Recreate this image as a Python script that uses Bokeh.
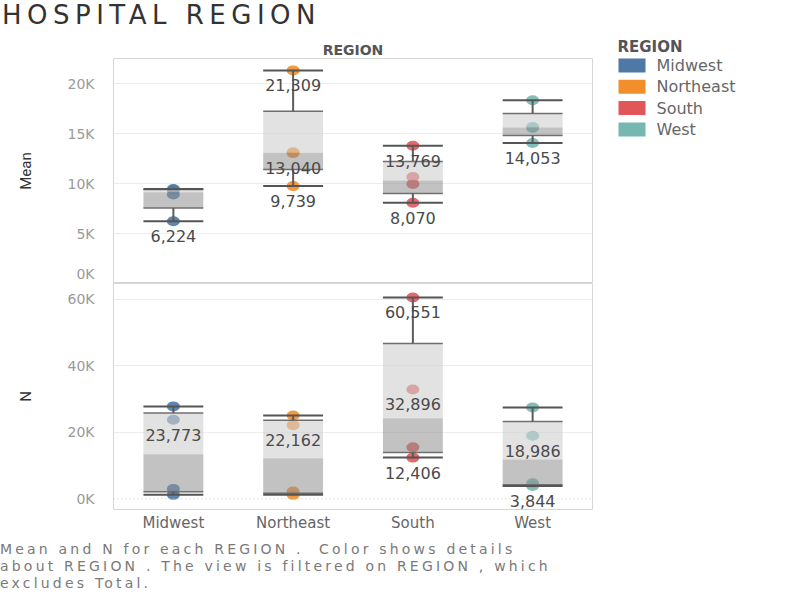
import numpy as np
from bokeh.plotting import figure
from bokeh.models import FactorRange, Range1d, FixedTicker, Span, Div, ColumnDataSource
from bokeh.layouts import column, row
from bokeh.embed import file_html
from bokeh.resources import INLINE
from bokeh.core.properties import value

# ---------------- data ----------------
regions = ["Midwest", "Northeast", "South", "West"]
region_colors = ["#4e79a7", "#f28e2b", "#e15759", "#76b7b2"]

mean_midwest = [6224, 8900, 9350, 9450]
mean_northeast = [9739, 13040, 13120, 21309]
mean_south = [8070, 9950, 10650, 13769]
mean_west = [14053, 15550, 15650, 18330]

n_midwest = [1200, 3000, 23773, 27800]
n_northeast = [1200, 2200, 22162, 25050]
n_south = [12406, 15500, 32896, 60551]
n_west = [3844, 4700, 18986, 27500]

mean_labeled = [6224, 9739, 13040, 21309, 8070, 13769, 14053]
n_labeled = [23773, 22162, 60551, 32896, 12406, 18986, 3844]

mean_ticks = [0, 5000, 10000, 15000, 20000]
n_ticks = [0, 20000, 40000, 60000]

FONT = "DejaVu Sans"


def hinges(vals):
    s = np.sort(np.asarray(vals, dtype=float))
    n = len(s)
    q1 = np.median(s[:(n + 1) // 2])
    q3 = np.median(s[n // 2:])
    return s.min(), q1, np.median(s), q3, s.max()


def build_panel(p, series, labeled):
    px, py, pc, pl = [], [], [], []
    bx, lo, q1s, meds, q3s, hi = [], [], [], [], [], []
    for reg, col, vals in zip(regions, region_colors, series):
        for v in vals:
            px.append(reg); py.append(v); pc.append(col)
            pl.append(f"{v:,}" if v in labeled else "")
        a, b, c, d, e = hinges(vals)
        bx.append(reg); lo.append(a); q1s.append(b); meds.append(c); q3s.append(d); hi.append(e)
    pts = ColumnDataSource(dict(x=px, y=py, color=pc, label=pl))
    box = ColumnDataSource(dict(x=bx, lo=lo, q1=q1s, med=meds, q3=q3s, hi=hi))

    p.ellipse(x="x", y="y", width=13, height=10, width_units="screen", height_units="screen",
              fill_color="color", fill_alpha=0.9, line_color=None, source=pts)
    p.vbar(x="x", bottom="med", top="q3", width=0.5, fill_color="#cfcfcf", fill_alpha=0.6,
           line_color=None, source=box)
    p.vbar(x="x", bottom="q1", top="med", width=0.5, fill_color="#8f8f8f", fill_alpha=0.55,
           line_color=None, source=box)
    for key in ("q1", "q3"):
        p.rect(x="x", y=key, width=0.5, height=1.5, height_units="screen",
               fill_color="#6f6f6f", line_color=None, source=box)
    p.segment(x0="x", y0="q3", x1="x", y1="hi", line_color="#5c5c5c", line_width=2, source=box)
    p.segment(x0="x", y0="q1", x1="x", y1="lo", line_color="#5c5c5c", line_width=2, source=box)
    for key in ("lo", "hi"):
        p.rect(x="x", y=key, width=0.5, height=2, height_units="screen",
               fill_color="#555555", line_color=None, source=box)
    p.text(x="x", y="y", text="label", y_offset=15, text_align="center", text_baseline="middle",
           text_font=value(FONT), text_font_size="16px", text_color="#4a4a4a", source=pts)


def style_axes(p, ticks, label, label_ticks=None):
    shown = label_ticks if label_ticks is not None else ticks
    p.yaxis.ticker = FixedTicker(ticks=shown)
    p.yaxis.major_label_overrides = {s: f"{t // 1000}K" for s, t in zip(shown, ticks)}
    p.yaxis.axis_line_color = None
    p.yaxis.major_tick_line_color = None
    p.yaxis.minor_tick_line_color = None
    p.yaxis.major_label_standoff = 13
    p.yaxis.major_label_text_font = FONT
    p.yaxis.major_label_text_font_size = "14px"
    p.yaxis.major_label_text_color = "#9a9a9a"
    p.yaxis.axis_label = label
    p.yaxis.axis_label_text_font = "Roboto"
    p.yaxis.axis_label_text_font_size = "15px"
    p.yaxis.axis_label_text_font_style = "normal"
    p.yaxis.axis_label_text_color = "#333333"
    p.yaxis.axis_label_standoff = 30
    p.xgrid.visible = False
    p.ygrid.ticker = FixedTicker(ticks=[t for t in ticks if t != 0])
    p.ygrid.grid_line_color = "#ededed"
    p.background_fill_color = "white"
    p.border_fill_color = "white"


# ---------------- top panel: Mean ----------------
top = figure(width=594, height=245, x_range=FactorRange(*regions), y_range=Range1d(0, 22500),
             x_axis_location=None, toolbar_location=None, output_backend="svg",
             min_border_left=113, min_border_right=2, min_border_top=20, min_border_bottom=0,
             outline_line_color="#d6d6d6", title="REGION")
top.title.align = "center"
top.title.text_font = FONT
top.title.text_font_size = "14px"
top.title.text_font_style = "bold"
top.title.text_color = "#555555"
top.title.standoff = 2
# Tableau nudges the "0K" label up inside the pane, as here
style_axes(top, mean_ticks, "Mean", label_ticks=[1000] + mean_ticks[1:])
build_panel(top, [mean_midwest, mean_northeast, mean_south, mean_west], mean_labeled)

# ---------------- bottom panel: N ----------------
bot = figure(width=594, height=254, x_range=top.x_range, y_range=Range1d(-3200, 64750),
             toolbar_location=None, output_backend="svg",
             min_border_left=113, min_border_right=2, min_border_top=0, min_border_bottom=28,
             outline_line_color="#d6d6d6")
style_axes(bot, n_ticks, "N")
bot.add_layout(Span(location=0, dimension="width", line_color="#c4c4c4", line_dash="1 3", line_width=1))
bot.xaxis.axis_line_color = None
bot.xaxis.major_tick_line_color = None
bot.xaxis.major_label_standoff = -2
bot.xaxis.major_label_text_font = FONT
bot.xaxis.major_label_text_font_size = "15px"
bot.xaxis.major_label_text_color = "#666666"
build_panel(bot, [n_midwest, n_northeast, n_south, n_west], n_labeled)

# ---------------- legend ----------------
leg = figure(width=183, height=245, x_range=Range1d(0, 183), y_range=Range1d(245, 0),
             x_axis_location=None, y_axis_location=None, toolbar_location=None,
             output_backend="svg", min_border=0, outline_line_color=None)
leg.grid.visible = False
item_y = [27 + 21.3 * i for i in range(len(regions))]
leg.rect(x=[37.5] * len(regions), y=item_y, width=27, height=14, fill_color=region_colors, line_color=None)
leg.text(x=[62] * len(regions), y=item_y, text=regions, text_baseline="middle", text_align="left",
         text_font=value(FONT), text_font_size="16px", text_color="#666666")
leg.text(x=[23], y=[8], text=["REGION"], text_baseline="middle", text_align="left",
         text_font=value(FONT), text_font_size="15px", text_font_style="bold", text_color="#555555")

# ---------------- title & caption ----------------
title_div = Div(text="HOSPITAL REGION", width=780, height=38, margin=(0, 0, 0, 0),
                styles={"font-family": FONT, "font-size": "26px", "color": "#333333",
                        "line-height": "28px", "letter-spacing": "5.5px", "padding-left": "2px",
                        "padding-top": "1px"})
caption = Div(text="Mean and N for each REGION .&nbsp; Color shows details<br>"
                   "about REGION . The view is filtered on REGION , which<br>excludes Total.",
              width=700, height=64, margin=(0, 0, 0, 0),
              styles={"font-family": FONT, "font-size": "14px", "color": "#7a7a7a",
                      "line-height": "17px", "padding-top": "4px", "letter-spacing": "3.2px",
                      "white-space": "nowrap"})

layout = column(title_div, row(column(top, bot), leg), caption)
open("out.html", "w").write(file_html(layout, INLINE))
